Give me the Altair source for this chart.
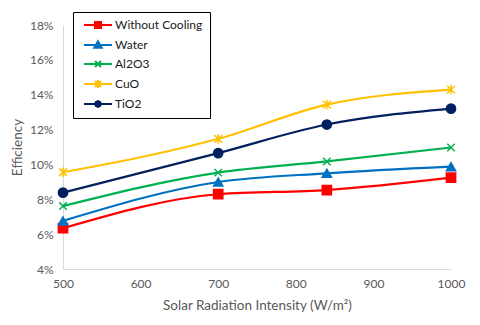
import altair as alt
import pandas as pd

x_vals = [500, 700, 840, 1000]
series_names = ["Without Cooling", "Water", "Al2O3", "CuO", "TiO2"]
without_cooling = [6.34, 8.29, 8.53, 9.24]
water = [6.76, 8.99, 9.49, 9.87]
al2o3 = [7.61, 9.53, 10.17, 10.97]
cuo = [9.55, 11.47, 13.43, 14.29]
tio2 = [8.38, 10.65, 12.29, 13.20]
y_ticks = [0.04, 0.06, 0.08, 0.10, 0.12, 0.14, 0.16, 0.18]
x_ticks = [500, 600, 700, 800, 900, 1000]

colors = ["#FF0000", "#0070C0", "#00B050", "#FFC000", "#002060"]

rows = []
for name, vals in zip(series_names, [without_cooling, water, al2o3, cuo, tio2]):
    for xv, yv in zip(x_vals, vals):
        rows.append({"x": xv, "y": yv / 100.0, "series": name})
df = pd.DataFrame(rows)

FONT = "Lato"
x_enc = alt.X("x:Q", scale=alt.Scale(domain=[500, 1000], nice=False),
              axis=alt.Axis(values=x_ticks, format="d", labelFlush=False,
                            title="Solar Radiation Intensity (W/m²)",
                            labelPadding=9, titlePadding=9))
y_enc = alt.Y("y:Q", scale=alt.Scale(domain=[0.04, 0.18], nice=False),
              axis=alt.Axis(values=y_ticks, format=".0%", title="Efficiency",
                            labelFlush=False, labelPadding=10, titlePadding=5))

base = alt.Chart(df)

line_part = "M-0.4,0H5.2"
legend_shapes = [
    line_part + "M1.8,-0.6H3.0V0.6H1.8Z",
    line_part + "M2.4,-0.75L3.15,0.55H1.65Z",
    line_part + "M1.8,-0.6L3.0,0.6M1.8,0.6L3.0,-0.6",
    line_part + "M1.8,-0.6L3.0,0.6M1.8,0.6L3.0,-0.6M2.4,-0.8V0.8",
    line_part + "M1.8,0L1.98,-0.42L2.4,-0.6L2.82,-0.42L3.0,0L2.82,0.42L2.4,0.6L1.98,0.42Z",
]
leg = alt.Legend(title=None)
stroke_scale = alt.Scale(domain=series_names, range=colors)

# legend-only layer (invisible marks, visible legend symbols: line + marker)
legend_layer = base.mark_point(filled=True, opacity=0).encode(
    x=x_enc, y=y_enc,
    shape=alt.Shape("series:N", scale=alt.Scale(domain=series_names, range=legend_shapes), legend=leg),
    fill=alt.Fill("series:N", scale=alt.Scale(domain=series_names, range=colors), legend=leg),
    stroke=alt.Stroke("series:N", scale=stroke_scale, legend=leg),
)

lines = base.mark_line(interpolate="monotone", strokeWidth=2.2).encode(
    x=x_enc, y=y_enc,
    stroke=alt.Stroke("series:N", scale=stroke_scale),
)

plot_shapes = ["square", "triangle-up", "M-1,-1L1,1M-1,1L1,-1",
               "M-1,-1L1,1M-1,1L1,-1M0,-1.25L0,1.25", "circle"]
plot_sizes = [85, 85, 55, 60, 85]
marker_layers = []
for name, col, shp, sz in zip(series_names, colors, plot_shapes, plot_sizes):
    marker_layers.append(
        base.transform_filter(alt.datum.series == name).mark_point(
            shape=shp, size=sz, filled=True, fill=col, stroke=col,
            strokeWidth=1.5, opacity=1
        ).encode(x=x_enc, y=y_enc)
    )

chart = alt.layer(legend_layer, lines, *marker_layers).properties(
    width=388, height=244,
    autosize=alt.AutoSizeParams(type="none"),
    padding={"left": 55, "top": 17, "right": 21, "bottom": 48},
    background="white",
).configure_view(stroke=None).configure_axis(
    grid=False, ticks=False, domainColor="#d9d9d9", domainWidth=1,
    labelFont=FONT, labelFontSize=12, labelColor="#595959",
    titleFont=FONT, titleFontSize=13.5, titleColor="#595959", titleFontWeight="normal",
).configure_legend(
    orient="none", legendX=10, legendY=-13,
    strokeColor="black", fillColor="white", padding=7,
    symbolSize=100, symbolStrokeWidth=2, symbolOpacity=1,
    labelOffset=23, labelFont=FONT, labelFontSize=12, labelColor="#1a1a1a",
    rowPadding=5,
)

chart.save("out.html", embed_options={"renderer": "svg", "actions": False})
